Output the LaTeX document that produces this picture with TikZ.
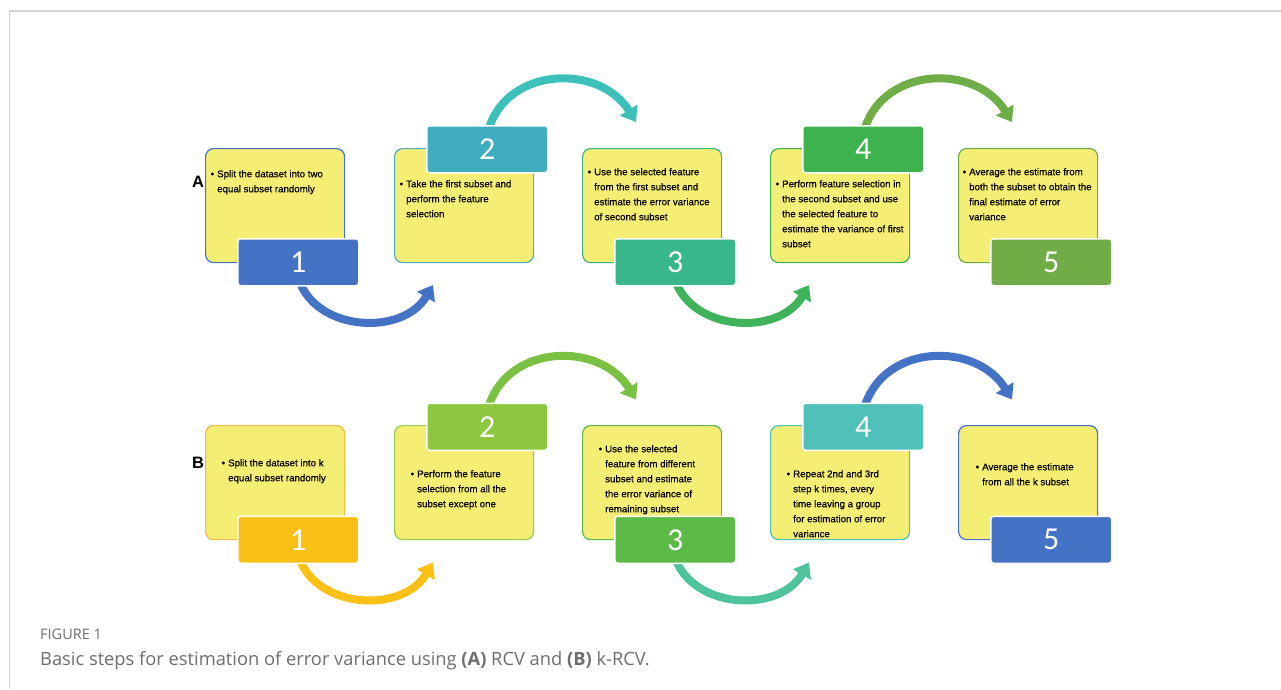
\documentclass[tikz,border=0pt]{standalone}
\usepackage{fontspec}
\setmainfont{Liberation Sans}
\newfontfamily\bodyfont[FakeBold=0.45]{Liberation Sans}
\newfontfamily\numfont{Carlito}
\newfontfamily\capfont{Open Sans}
\usetikzlibrary{arrows.meta}
\definecolor{yel}{HTML}{F5EE74}
\definecolor{framec}{HTML}{D4D4D4}
\definecolor{capc}{HTML}{6E6E6E}
% row A
\definecolor{bA1}{HTML}{4472C4}\definecolor{tA1}{HTML}{4472C4}\definecolor{aA12}{HTML}{4472C4}
\definecolor{bA2}{HTML}{4BACC6}\definecolor{tA2}{HTML}{3FADBF}\definecolor{aA23}{HTML}{3DBFBA}
\definecolor{bA3}{HTML}{3DB58A}\definecolor{tA3}{HTML}{38B78B}\definecolor{aA34}{HTML}{3EB35A}
\definecolor{bA4}{HTML}{3DB24F}\definecolor{tA4}{HTML}{3DB24F}\definecolor{aA45}{HTML}{6FAD46}
\definecolor{bA5}{HTML}{70AD47}\definecolor{tA5}{HTML}{70AD47}
% row B
\definecolor{bB1}{HTML}{F4B942}\definecolor{tB1}{HTML}{FBC015}\definecolor{aB12}{HTML}{FBC015}
\definecolor{bB2}{HTML}{92CC4E}\definecolor{tB2}{HTML}{8DC63F}\definecolor{aB23}{HTML}{7AC143}
\definecolor{bB3}{HTML}{5CB848}\definecolor{tB3}{HTML}{5CBA47}\definecolor{aB34}{HTML}{4DC49B}
\definecolor{bB4}{HTML}{4BC0C0}\definecolor{tB4}{HTML}{4FC1B9}\definecolor{aB45}{HTML}{4472C4}
\definecolor{bB5}{HTML}{4472C4}\definecolor{tB5}{HTML}{4472C4}
\newcommand\bl{\makebox[6.5pt][l]{\textbullet}}
\newcommand\ind{\hspace*{6.5pt}}
\tikzset{
  txtbox/.style={fill=yel, rounded corners=8pt, line width=1.2pt, minimum width=139pt, minimum height=114pt, inner sep=0pt, anchor=north west},
  numtab/.style={draw=white, line width=1.5pt, rounded corners=3pt, minimum width=121pt, minimum height=47pt, anchor=north west, inner sep=0pt, text=white, font=\numfont\fontsize{32}{32}\selectfont},
  bodytext/.style={anchor=north west, inner sep=0pt, align=left, font=\bodyfont\fontsize{9.7}{15}\selectfont},
  flow/.style={line width=8pt, -{Triangle[width=20pt,length=14pt]}},
  rowlabel/.style={inner sep=0pt, font=\bfseries\fontsize{16.5}{16.5}\selectfont}
}
\begin{document}
\begin{tikzpicture}[x=1pt,y=-1pt]
\useasboundingbox (0,0) rectangle (1281,689);
\fill[white] (0,0) rectangle (1281,689);
\draw[framec, line width=2pt] (9,11) -- (1281,11);
\draw[framec, line width=1.2pt] (9.5,11) -- (9.5,689);

% ---------------- Row A ----------------
\coordinate (sA12) at (299,280); \coordinate (eA12) at (433,285);
\coordinate (sA23) at (489,128); \coordinate (eA23) at (636,122);
\coordinate (sA34) at (675,280); \coordinate (eA34) at (809,285);
\coordinate (sA45) at (865,128); \coordinate (eA45) at (1012,122);
\draw[flow, draw=aA12] (sA12) .. controls (317,332) and (403,336) .. (eA12);
\draw[flow, draw=aA23] (sA23) .. controls (509,66) and (600,64) .. (eA23);
\draw[flow, draw=aA34] (sA34) .. controls (693,332) and (779,336) .. (eA34);
\draw[flow, draw=aA45] (sA45) .. controls (885,66) and (976,64) .. (eA45);

\node[txtbox, draw=bA1] (bA1) at (205,148) {};
\node[txtbox, draw=bA2] (bA2) at (394,148) {};
\node[txtbox, draw=bA3] (bA3) at (582,148) {};
\node[txtbox, draw=bA4] (bA4) at (770,148) {};
\node[txtbox, draw=bA5] (bA5) at (958,148) {};

\node[bodytext] (xA1) at (210.5,170) {\bl Split the dataset into two\\\ind equal subset randomly};
\node[bodytext] (xA2) at (399.5,180) {\bl Take the first subset and\\\ind perform the feature\\\ind selection};
\node[bodytext] (xA3) at (587.5,168) {\bl Use the selected feature\\\ind from the first subset and\\\ind estimate the error variance\\\ind of second subset};
\node[bodytext] (xA4) at (775.5,180) {\bl Perform feature selection in\\\ind the second subset and use\\\ind the selected feature to\\\ind estimate the variance of first\\\ind subset};
\node[bodytext] (xA5) at (962.5,168) {\bl Average the estimate from\\\ind both the subset to obtain the\\\ind final estimate of error\\\ind variance};

\node[numtab, fill=tA1] (tA1) at (237,238) {1};
\node[numtab, fill=tA2] (tA2) at (426,125) {2};
\node[numtab, fill=tA3] (tA3) at (614,238) {3};
\node[numtab, fill=tA4] (tA4) at (802,125) {4};
\node[numtab, fill=tA5] (tA5) at (990,238) {5};

\node[rowlabel] (lA) at (198,182) {A};

% ---------------- Row B ----------------
\coordinate (sB12) at (299,557.5); \coordinate (eB12) at (433,562.5);
\coordinate (sB23) at (489,405.5); \coordinate (eB23) at (636,399.5);
\coordinate (sB34) at (675,557.5); \coordinate (eB34) at (809,562.5);
\coordinate (sB45) at (865,405.5); \coordinate (eB45) at (1012,399.5);
\draw[flow, draw=aB12] (sB12) .. controls (317,609.5) and (403,613.5) .. (eB12);
\draw[flow, draw=aB23] (sB23) .. controls (509,343.5) and (600,341.5) .. (eB23);
\draw[flow, draw=aB34] (sB34) .. controls (693,609.5) and (779,613.5) .. (eB34);
\draw[flow, draw=aB45] (sB45) .. controls (885,343.5) and (976,341.5) .. (eB45);

\node[txtbox, draw=bB1] (bB1) at (205,425) {};
\node[txtbox, draw=bB2] (bB2) at (394,425) {};
\node[txtbox, draw=bB3] (bB3) at (582,425) {};
\node[txtbox, draw=bB4] (bB4) at (770,425) {};
\node[txtbox, draw=bB5] (bB5) at (958,425) {};

\node[bodytext] (xB1) at (221.5,459) {\bl Split the dataset into k\\\ind equal subset randomly};
\node[bodytext] (xB2) at (410.5,470) {\bl Perform the feature\\\ind selection from all the\\\ind subset except one};
\node[bodytext] (xB3) at (598.5,445) {\bl Use the selected\\\ind feature from different\\\ind subset and estimate\\\ind the error variance of\\\ind remaining subset};
\node[bodytext] (xB4) at (786.5,470) {\bl Repeat 2nd and 3rd\\\ind step k times, every\\\ind time leaving a group\\\ind for estimation of error\\\ind variance};
\node[bodytext] (xB5) at (975.5,463) {\bl Average the estimate\\\ind from all the k subset};

\node[numtab, fill=tB1] (tB1) at (237,515.5) {1};
\node[numtab, fill=tB2] (tB2) at (426,402.5) {2};
\node[numtab, fill=tB3] (tB3) at (614,515.5) {3};
\node[numtab, fill=tB4] (tB4) at (802,402.5) {4};
\node[numtab, fill=tB5] (tB5) at (990,515.5) {5};

\node[rowlabel] (lB) at (198,463) {B};

% ---------------- Caption ----------------
\node[anchor=base west, inner sep=0pt, text=capc, font=\capfont\fontsize{14.5}{15}\selectfont] (figno) at (40,639) {FIGURE 1};
\node[anchor=base west, inner sep=0pt, text=capc, font=\capfont\fontsize{18.3}{19}\selectfont] (capt) at (40,665) {Basic steps for estimation of error variance using \textbf{(A)} RCV and \textbf{(B)} k-RCV.};
\end{tikzpicture}
\end{document}
